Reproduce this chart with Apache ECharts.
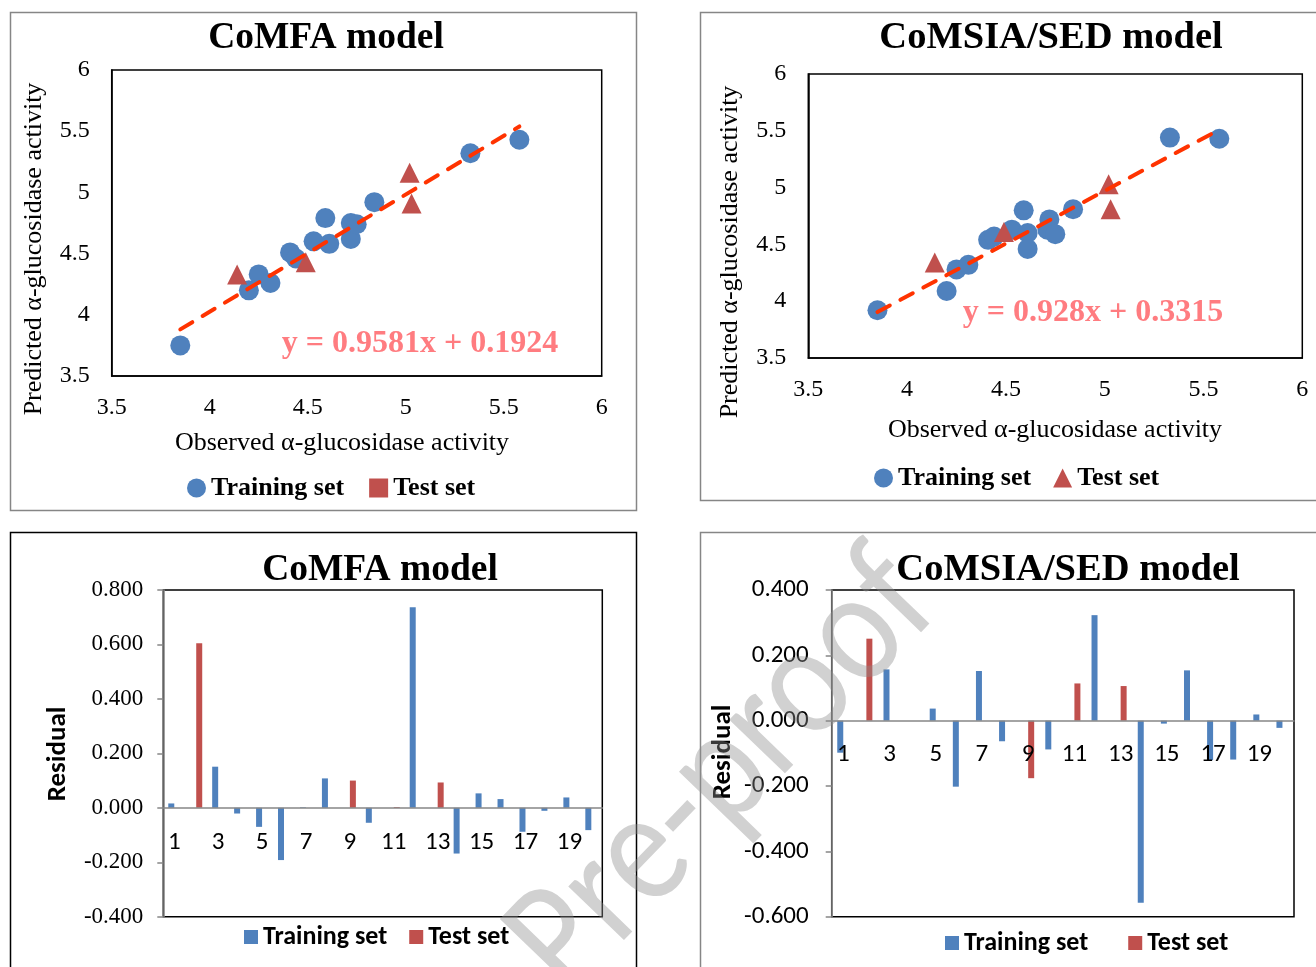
<!DOCTYPE html>
<html>
<head>
<meta charset="utf-8">
<script src="https://cdn.jsdelivr.net/npm/echarts@6/dist/echarts.min.js"></script>
<style>
  html, body { margin: 0; padding: 0; background: #fff; }
  #chart { width: 1316px; height: 967px; }
</style>
</head>
<body>
<div id="chart"></div>
<script>
// ---- Observed vs predicted activity (CoMFA) ----
const comfaTrainObs  = [3.85, 4.20, 4.25, 4.31, 4.41, 4.44, 4.53, 4.59, 4.61, 4.72, 4.72, 4.75, 4.84, 5.33, 5.58];
const comfaTrainPred = [3.75, 4.20, 4.33, 4.26, 4.51, 4.46, 4.60, 4.79, 4.58, 4.62, 4.75, 4.74, 4.92, 5.32, 5.43];
const comfaTestObs   = [4.14, 4.49, 5.02, 5.03];
const comfaTestPred  = [4.33, 4.43, 5.16, 4.91];
const comfaSlope = 0.9581;
const comfaIntercept = 0.1924;

// ---- Observed vs predicted activity (CoMSIA/SED) ----
const comsiaTrainObs  = [3.85, 4.20, 4.25, 4.31, 4.41, 4.44, 4.53, 4.59, 4.61, 4.61, 4.72, 4.71, 4.75, 4.84, 5.33, 5.58];
const comsiaTrainPred = [3.92, 4.09, 4.28, 4.32, 4.54, 4.57, 4.63, 4.80, 4.60, 4.46, 4.72, 4.63, 4.59, 4.81, 5.44, 5.43];
const comsiaTestObs   = [4.14, 4.49, 5.02, 5.03];
const comsiaTestPred  = [4.34, 4.61, 5.03, 4.81];
const comsiaSlope = 0.928;
const comsiaIntercept = 0.3315;

// ---- Residuals per compound ----
const compounds = ['1','2','3','4','5','6','7','8','9','10','11','12','13','14','15','16','17','18','19','20'];
const testCompounds = [2, 9, 11, 13];
const comfaResidual  = [0.016, 0.604, 0.151, -0.021, -0.070, -0.192, 0.002, 0.108, 0.100, -0.055,
                        0.003, 0.737, 0.093, -0.168, 0.053, 0.032, -0.088, -0.011, 0.038, -0.082];
const comsiaResidual = [-0.098, 0.251, 0.157, 0.000, 0.037, -0.202, 0.152, -0.063, -0.176, -0.088,
                        0.114, 0.323, 0.106, -0.557, -0.009, 0.154, -0.121, -0.119, 0.019, -0.022];
const comfaResidualRange  = [-0.4, 0.8];
const comsiaResidualRange = [-0.6, 0.4];

const BLUE = '#4F81BD';
const RED = '#C0504D';
const FIT = '#FF3300';
const SERIF = '"Liberation Serif", "Times New Roman", serif';
const SANS = 'Carlito, Calibri, Lato, sans-serif';

const pairs = (xs, ys) => xs.map((x, i) => [x, ys[i]]);
const fitEnds = (slope, intercept, obs) => {
  const lo = Math.min(...obs), hi = Math.max(...obs);
  return [[lo, slope * lo + intercept], [hi, slope * hi + intercept]];
};
const trainPart = r => r.map((v, i) => testCompounds.includes(i + 1) ? null : v);
const testPart  = r => r.map((v, i) => testCompounds.includes(i + 1) ? v : null);

const gridBoxes = [
  { left: 111.7, top: 70, width: 490, height: 306 },
  { left: 808.3, top: 74, width: 494, height: 284 },
  { left: 163.3, top: 590, width: 439, height: 326.7 },
  { left: 831.7, top: 590, width: 462.3, height: 326.7 }
];
const grids = gridBoxes.map(g => Object.assign(
  { show: true, borderColor: '#000', borderWidth: 1.5, containLabel: false }, g));

const scatterX = gi => ({
  gridIndex: gi, type: 'value', min: 3.5, max: 6, interval: 0.5,
  axisLine: { show: true, onZero: false, lineStyle: { color: '#000', width: 1.5 } },
  axisTick: { show: false }, splitLine: { show: false },
  axisLabel: { margin: 20, fontFamily: SERIF, fontSize: 24, color: '#000' }
});
const scatterY = gi => ({
  gridIndex: gi, type: 'value', min: 3.5, max: 6, interval: 0.5,
  axisLine: { show: true, onZero: false, lineStyle: { color: '#000', width: 1.5 } },
  axisTick: { show: false }, splitLine: { show: false },
  axisLabel: { margin: 22, fontFamily: SERIF, fontSize: 24, color: '#000' }
});
// category axis drawn along the zero residual line
const barX = (gi, range) => ({
  gridIndex: gi, type: 'category', data: compounds, z: 5,
  offset: -gridBoxes[gi].height * (0 - range[0]) / (range[1] - range[0]),
  axisLine: { show: true, onZero: false, lineStyle: { color: '#868686', width: 1.5 } },
  axisTick: { show: false }, splitLine: { show: false },
  axisLabel: { interval: 1, margin: 22, fontFamily: SANS, fontSize: 25, color: '#000' }
});
const barY = (gi, range, font, size, margin) => ({
  gridIndex: gi, type: 'value', min: range[0], max: range[1], interval: 0.2,
  axisLine: { show: true, lineStyle: { color: '#868686', width: 1.5 } },
  axisTick: { show: true, inside: false, length: 6, lineStyle: { color: '#868686', width: 1.5 } },
  splitLine: { show: false },
  axisLabel: { margin: margin, fontFamily: font, fontSize: size, color: '#000',
               formatter: v => v.toFixed(3) }
});

const scatterSeries = (gi, name, data, symbol, color) => ({
  type: 'scatter', name: name, xAxisIndex: gi, yAxisIndex: gi,
  symbol: symbol, symbolSize: 20, data: data, z: 3,
  itemStyle: { color: color, opacity: 1 }
});
const fitSeries = (gi, data) => ({
  type: 'line', name: 'Linear fit', xAxisIndex: gi, yAxisIndex: gi,
  data: data, symbol: 'none', silent: true, z: 4,
  lineStyle: { color: FIT, width: 4, type: [14, 12], cap: 'round' }
});
const barSeries = (gi, name, data, color) => ({
  type: 'bar', name: name, xAxisIndex: gi, yAxisIndex: gi,
  data: data, barWidth: 6, barGap: '0%', itemStyle: { color: color }
});

const text = (x, y, str, size, family, weight, fill, rot) => ({
  type: 'text', x: x, y: y, rotation: rot || 0, silent: true,
  style: { text: str, fontSize: size, fontFamily: family, fontWeight: weight || 'normal',
           fill: fill || '#000', align: 'center', verticalAlign: 'middle' }
});
const frame = (x, y, w, h, color) => ({
  type: 'rect', silent: true, z: -1,
  shape: { x: x, y: y, width: w, height: h },
  style: { fill: 'none', stroke: color, lineWidth: 1.5 }
});

const serifLegend = { fontFamily: SERIF, fontWeight: 'bold', fontSize: 26, color: '#000' };
const sansLegend  = { fontFamily: SANS, fontWeight: 'bold', fontSize: 26, color: '#000' };

const option = {
  animation: false,
  backgroundColor: '#fff',
  grid: grids,
  xAxis: [scatterX(0), scatterX(1), barX(2, comfaResidualRange), barX(3, comsiaResidualRange)],
  yAxis: [scatterY(0), scatterY(1),
          barY(2, comfaResidualRange, SERIF, 23, 20),
          barY(3, comsiaResidualRange, SANS, 25, 23)],
  legend: [
    { left: 182, top: 470, itemWidth: 19, itemHeight: 19, itemGap: 25, textStyle: serifLegend,
      data: [{ name: 'Training set', icon: 'circle' }, { name: 'Test set', icon: 'rect' }] },
    { left: 869, top: 460, itemWidth: 19, itemHeight: 19, itemGap: 22, textStyle: serifLegend,
      data: [{ name: 'Training set', icon: 'circle' }, { name: 'Test set', icon: 'triangle' }] },
    { left: 239, top: 919, itemWidth: 14, itemHeight: 14, itemGap: 22, textStyle: sansLegend,
      data: [{ name: 'Training set', icon: 'rect' }, { name: 'Test set', icon: 'rect' }] },
    { left: 940, top: 925, itemWidth: 14, itemHeight: 14, itemGap: 40, textStyle: sansLegend,
      data: [{ name: 'Training set', icon: 'rect' }, { name: 'Test set', icon: 'rect' }] }
  ],
  series: [
    scatterSeries(0, 'Training set', pairs(comfaTrainObs, comfaTrainPred), 'circle', BLUE),
    scatterSeries(0, 'Test set', pairs(comfaTestObs, comfaTestPred), 'triangle', RED),
    fitSeries(0, fitEnds(comfaSlope, comfaIntercept, comfaTrainObs.concat(comfaTestObs))),
    scatterSeries(1, 'Training set', pairs(comsiaTrainObs, comsiaTrainPred), 'circle', BLUE),
    scatterSeries(1, 'Test set', pairs(comsiaTestObs, comsiaTestPred), 'triangle', RED),
    fitSeries(1, fitEnds(comsiaSlope, comsiaIntercept, comsiaTrainObs.concat(comsiaTestObs))),
    barSeries(2, 'Training set', trainPart(comfaResidual), BLUE),
    barSeries(2, 'Test set', testPart(comfaResidual), RED),
    barSeries(3, 'Training set', trainPart(comsiaResidual), BLUE),
    barSeries(3, 'Test set', testPart(comsiaResidual), RED)
  ],
  graphic: [
    frame(10.5, 12.5, 626, 498, '#868686'),
    frame(700.5, 12.5, 630, 488, '#868686'),
    frame(10.5, 532.5, 626, 460, '#000'),
    frame(700.5, 532.5, 630, 460, '#868686'),
    text(326, 38, 'CoMFA model', 37.5, SERIF, 'bold'),
    text(1051, 38, 'CoMSIA/SED model', 38.5, SERIF, 'bold'),
    text(380, 570, 'CoMFA model', 37.5, SERIF, 'bold'),
    text(1068, 570, 'CoMSIA/SED model', 38.5, SERIF, 'bold'),
    text(34, 249, 'Predicted α-glucosidase activity', 26, SERIF, 'normal', '#000', Math.PI / 2),
    text(730, 252, 'Predicted α-glucosidase activity', 26, SERIF, 'normal', '#000', Math.PI / 2),
    text(342, 443, 'Observed α-glucosidase activity', 26, SERIF),
    text(1055, 430, 'Observed α-glucosidase activity', 26, SERIF),
    text(420, 344, 'y = ' + comfaSlope + 'x + ' + comfaIntercept, 32, SERIF, 'bold', '#FF7C80'),
    text(1093, 313, 'y = ' + comsiaSlope + 'x + ' + comsiaIntercept, 32, SERIF, 'bold', '#FF7C80'),
    text(58, 754, 'Residual', 27, SANS, 'bold', '#000', Math.PI / 2),
    text(723, 752, 'Residual', 27, SANS, 'bold', '#000', Math.PI / 2),
    Object.assign(
      text(726, 776, 'Pre-proof', 162, SANS, 'normal', 'rgba(140,140,140,0.40)', 46 * Math.PI / 180),
      { z: 200, scaleX: 0.86 })
  ]
};

const chart = echarts.init(document.getElementById('chart'), null, { renderer: 'canvas' });
chart.setOption(option);
</script>
</body>
</html>
